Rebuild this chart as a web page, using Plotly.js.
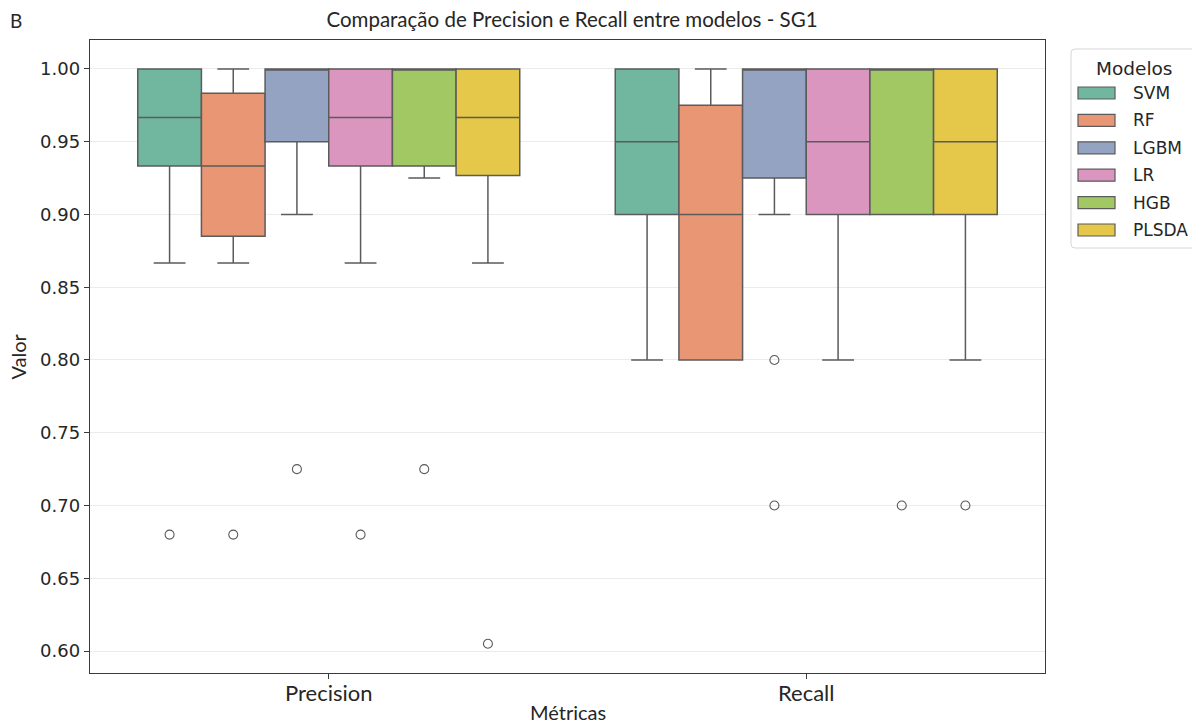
<!DOCTYPE html>
<html>
<head>
<meta charset="utf-8">
<script src="https://cdn.plot.ly/plotly-3.0.1.min.js"></script>
<style>
  html, body { margin: 0; padding: 0; background: #ffffff; }
  #chart { width: 1192px; height: 726px; }
</style>
</head>
<body>
<div id="chart"></div>
<script>
// Metrics on the x axis and the models compared within each metric
const metrics = ['Precision', 'Recall'];
const models = ['SVM', 'RF', 'LGBM', 'LR', 'HGB', 'PLSDA'];
const colors = ['#71b7a0', '#e99675', '#95a3c3', '#db96c0', '#a2c864', '#e5c849'];

// Precision: box summaries per model (same order as `models`)
const precLower  = [0.8667, 0.8667, 0.900, 0.8667, 0.925, 0.8667];
const precQ1     = [0.9333, 0.885,  0.950, 0.9333, 0.9333, 0.9267];
const precMedian = [0.9667, 0.9333, 1.000, 0.9667, 1.000, 0.9667];
const precQ3     = [1.000,  0.9833, 1.000, 1.000,  1.000, 1.000];
const precUpper  = [1.000,  1.000,  1.000, 1.000,  1.000, 1.000];
const precOutliers = [[0.68], [0.68], [0.725], [0.68], [0.725], [0.605]];

// Recall: box summaries per model
const recLower  = [0.80, 0.80,  0.900, 0.80, 0.90, 0.80];
const recQ1     = [0.90, 0.80,  0.925, 0.90, 0.90, 0.90];
const recMedian = [0.95, 0.90,  1.000, 0.95, 1.00, 0.95];
const recQ3     = [1.00, 0.975, 1.000, 1.00, 1.00, 1.00];
const recUpper  = [1.00, 1.00,  1.000, 1.00, 1.00, 1.00];
const recOutliers = [[], [], [0.80, 0.70], [], [0.70], [0.70]];

const yTicks = [0.60, 0.65, 0.70, 0.75, 0.80, 0.85, 0.90, 0.95, 1.00];

// Dodged layout: each metric slot is 0.8 wide, split evenly among the models
const groupWidth = 0.8;
const boxWidth = groupWidth / models.length;
const offsetOf = i => -groupWidth / 2 + boxWidth * (i + 0.5);

const edge = '#5b5b5b';
const traces = [];

models.forEach((m, i) => {
  const xs = metrics.map((_, c) => c + offsetOf(i));
  traces.push({
    type: 'box',
    name: m,
    x: xs,
    q1: [precQ1[i], recQ1[i]],
    median: [precMedian[i], recMedian[i]],
    q3: [precQ3[i], recQ3[i]],
    lowerfence: [precLower[i], recLower[i]],
    upperfence: [precUpper[i], recUpper[i]],
    width: boxWidth,
    whiskerwidth: 0.5,
    fillcolor: colors[i],
    line: { color: edge, width: 1.5 },
    boxpoints: false,
    showlegend: false,
    hoverinfo: 'skip'
  });

  const ox = [], oy = [];
  [precOutliers[i], recOutliers[i]].forEach((vals, c) => {
    vals.forEach(v => { ox.push(c + offsetOf(i)); oy.push(v); });
  });
  if (ox.length) {
    traces.push({
      type: 'scatter',
      mode: 'markers',
      x: ox,
      y: oy,
      marker: { symbol: 'circle-open', size: 9, color: edge, line: { width: 1.1, color: edge } },
      showlegend: false,
      hoverinfo: 'skip'
    });
  }
});

// Plot-area geometry in pixels, used to place the legend block in paper units
const W = 1192, H = 726;
const M = { l: 90, r: 147, t: 40, b: 53 };
const pw = W - M.l - M.r, ph = H - M.t - M.b;
const px = x => (x - M.l) / pw;
const py = y => (H - M.b - y) / ph;

const shapes = [];
const annotations = [];

// Legend frame with rounded corners
(function () {
  const x0 = 1071, x1 = 1215, y0 = 49, y1 = 248, r = 4;
  const rx = r / pw, ry = r / ph;
  const X0 = px(x0), X1 = px(x1), Y0 = py(y0), Y1 = py(y1);
  const path = `M${X0 + rx},${Y0} L${X1 - rx},${Y0} Q${X1},${Y0} ${X1},${Y0 - ry} ` +
               `L${X1},${Y1 + ry} Q${X1},${Y1} ${X1 - rx},${Y1} L${X0 + rx},${Y1} ` +
               `Q${X0},${Y1} ${X0},${Y1 + ry} L${X0},${Y0 - ry} Q${X0},${Y0} ${X0 + rx},${Y0} Z`;
  shapes.push({ type: 'path', xref: 'paper', yref: 'paper', path: path,
                line: { color: '#d6d6d6', width: 1 }, fillcolor: 'rgba(255,255,255,0.8)' });
})();

annotations.push({
  xref: 'paper', yref: 'paper', x: px(1134), y: py(68), xanchor: 'center', yanchor: 'middle',
  text: 'Modelos', showarrow: false, font: { family: 'DejaVu Sans', size: 18.5, color: '#262626' }
});

models.forEach((m, i) => {
  const cy = 93 + i * 27.4;
  shapes.push({
    type: 'rect', xref: 'paper', yref: 'paper',
    x0: px(1078), x1: px(1115), y0: py(cy - 6), y1: py(cy + 6),
    fillcolor: colors[i], line: { color: edge, width: 1.2 }
  });
  annotations.push({
    xref: 'paper', yref: 'paper', x: px(1131), y: py(cy), xanchor: 'left', yanchor: 'middle',
    text: m, showarrow: false, font: { family: 'DejaVu Sans', size: 17, color: '#262626' }
  });
});

// Axis titles and panel letter
annotations.push({
  xref: 'paper', yref: 'paper', x: 0.5, y: py(712), xanchor: 'center', yanchor: 'middle',
  text: 'Métricas', showarrow: false, font: { family: 'Lato', size: 20, color: '#262626' }
});
annotations.push({
  xref: 'paper', yref: 'paper', x: px(17), y: 0.5, xanchor: 'center', yanchor: 'middle',
  text: 'Valor', textangle: -90, showarrow: false, font: { family: 'Lato', size: 20, color: '#262626' }
});
annotations.push({
  xref: 'paper', yref: 'paper', x: px(16), y: py(20), xanchor: 'center', yanchor: 'middle',
  text: 'B', showarrow: false, font: { family: 'Lato', size: 19, color: '#262626' }
});

const layout = {
  width: W,
  height: H,
  margin: M,
  paper_bgcolor: '#ffffff',
  plot_bgcolor: '#ffffff',
  boxmode: 'overlay',
  showlegend: false,
  title: {
    text: 'Comparação de Precision e Recall entre modelos - SG1',
    x: 572 / W, xanchor: 'center', xref: 'container',
    y: 1 - 20 / H, yanchor: 'middle', yref: 'container',
    font: { family: 'Lato', size: 20.5, color: '#262626' }
  },
  xaxis: {
    type: 'linear',
    range: [-0.5, metrics.length - 0.5],
    tickvals: metrics.map((_, c) => c),
    ticktext: metrics,
    showgrid: false,
    zeroline: false,
    showline: true,
    mirror: true,
    linecolor: '#3a3a3a',
    linewidth: 1.3,
    ticks: 'outside',
    ticklen: 5,
    tickcolor: '#3a3a3a',
    ticklabelstandoff: -5,
    tickfont: { family: 'Lato', size: 22, color: '#262626' }
  },
  yaxis: {
    range: [0.5849, 1.0199],
    tickvals: yTicks,
    tickformat: '.2f',
    showgrid: true,
    gridcolor: '#ebebeb',
    gridwidth: 1,
    zeroline: false,
    showline: true,
    mirror: true,
    linecolor: '#3a3a3a',
    linewidth: 1.3,
    ticks: 'outside',
    ticklen: 5,
    tickcolor: '#3a3a3a',
    tickfont: { family: 'DejaVu Sans', size: 18, color: '#262626' }
  },
  shapes: shapes,
  annotations: annotations
};

Plotly.newPlot('chart', traces, layout, { staticPlot: true, displayModeBar: false });
</script>
</body>
</html>
